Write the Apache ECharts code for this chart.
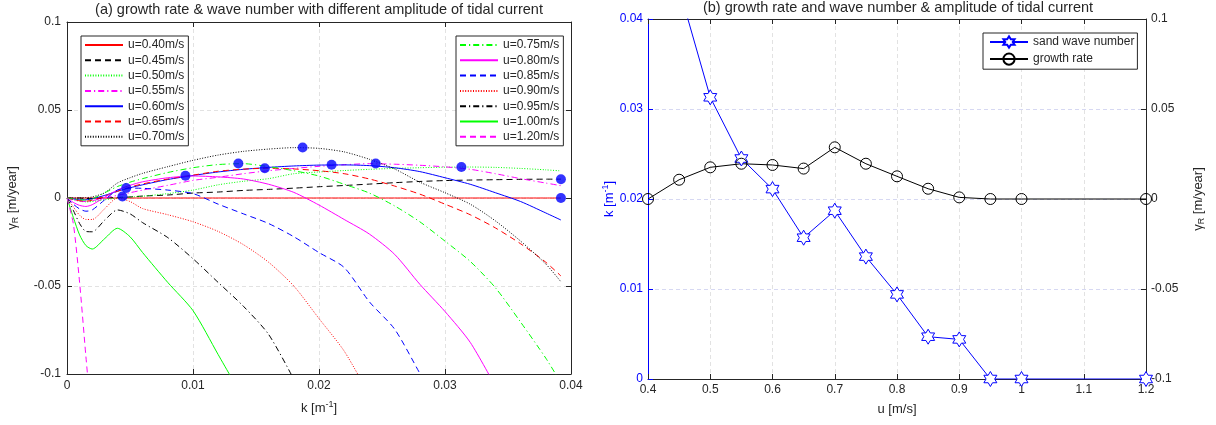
<!DOCTYPE html>
<html>
<head>
<meta charset="utf-8">
<script src="https://cdn.jsdelivr.net/npm/echarts@6/dist/echarts.min.js"></script>
<style>
  html, body { margin: 0; padding: 0; background: #fff; }
  #chart { width: 1216px; height: 425px; }
</style>
</head>
<body>
<div id="chart"></div>
<script>
// ---- panel (a): growth rate vs wave number, one curve per tidal amplitude ----
const kGrid = [0, 0.0005, 0.001, 0.0015, 0.002, 0.003, 0.004, 0.005, 0.006, 0.008,
  0.010, 0.012, 0.014, 0.016, 0.018, 0.020, 0.022, 0.024, 0.026, 0.028,
  0.030, 0.032, 0.034, 0.036, 0.038, 0.0392];

const g040 = [0, 0, 0, 0, 0, 0, 0, 0, 0, 0, 0, 0, 0, 0, 0, 0, 0, 0, 0, 0, 0, 0, 0, 0, 0, 0];
const g045 = [0, 0, 0, -0.0003, -0.0003, 0, 0.0003, 0.0006, 0.0011, 0.0017, 0.0028, 0.0034, 0.0043,
  0.0049, 0.0056, 0.0064, 0.0071, 0.0079, 0.0087, 0.0094, 0.0099, 0.0102, 0.0104, 0.0106, 0.0107, 0.0107];
const g050 = [0, -0.001, -0.0018, -0.0022, -0.002, -0.001, 0, 0.0005, 0.001, 0.0025, 0.0045, 0.0075, 0.0095,
  0.011, 0.0138, 0.0148, 0.0156, 0.0163, 0.0168, 0.0172, 0.0175, 0.0176, 0.0174, 0.0168, 0.016, 0.0154];
const g055 = [0, -0.001, -0.0018, -0.002, -0.0015, 0, 0.0015, 0.003, 0.0045, 0.0072, 0.01, 0.0118, 0.0138,
  0.0155, 0.0168, 0.018, 0.0189, 0.0195, 0.0192, 0.0186, 0.0177, 0.0163, 0.0138, 0.011, 0.0085, 0.007];
const g060 = [0, -0.0005, -0.001, -0.001, -0.0005, 0.0015, 0.0038, 0.0058, 0.0075, 0.0105, 0.0128, 0.0148, 0.0163,
  0.0174, 0.0182, 0.0187, 0.0188, 0.0184, 0.0172, 0.015, 0.0115, 0.0078, 0.003, -0.002, -0.0085, -0.0125];
const g065 = [0, -0.0008, -0.0015, -0.0018, -0.0012, 0.001, 0.0038, 0.0062, 0.008, 0.0108, 0.013, 0.0152, 0.0164,
  0.0169, 0.0165, 0.0155, 0.0138, 0.0108, 0.0068, 0.0022, -0.0035, -0.0095, -0.017, -0.026, -0.0365, -0.0443];
const g070 = [0, 0, 0, 0.0002, 0.0006, 0.003, 0.0085, 0.0115, 0.014, 0.0178, 0.0214, 0.0244, 0.0265,
  0.0278, 0.0286, 0.0282, 0.0262, 0.022, 0.0165, 0.009, 0.003, -0.0035, -0.013, -0.0245, -0.0375, -0.0476];
const g075 = [0, -0.0005, -0.001, -0.0012, -0.0005, 0.003, 0.0065, 0.009, 0.011, 0.0145, 0.0172, 0.019, 0.0195,
  0.0178, 0.0155, 0.0125, 0.0078, 0.0028, -0.0045, -0.0135, -0.0245, -0.036, -0.051, -0.0705, -0.091, -0.105];
const g080 = [0, -0.0025, -0.0042, -0.0048, -0.0038, 0.0005, 0.0045, 0.0072, 0.0092, 0.0115, 0.0125, 0.012, 0.0108,
  0.0078, 0.0032, -0.004, -0.0122, -0.0205, -0.032, -0.049, -0.0645, -0.082, -0.107];
const g085 = [0, -0.0035, -0.0062, -0.0075, -0.0068, -0.001, 0.0045, 0.0056, 0.0055, 0.0045, 0.0025, -0.0035, -0.009,
  -0.0145, -0.022, -0.031, -0.0395, -0.059, -0.0745, -0.0996, -0.125];
const g090 = [0, -0.005, -0.0098, -0.0122, -0.0122, -0.006, 0, -0.002, -0.006, -0.0095, -0.0135, -0.019, -0.0265,
  -0.0365, -0.05, -0.0685, -0.087, -0.112];
const g095 = [0, -0.007, -0.0145, -0.019, -0.0192, -0.0125, -0.0068, -0.009, -0.014, -0.0225, -0.0345, -0.048, -0.0615,
  -0.0775, -0.103];
const g100 = [0, -0.011, -0.021, -0.027, -0.029, -0.023, -0.0172, -0.022, -0.031, -0.048, -0.064, -0.089, -0.114];
const g120 = [0, -0.0145, -0.048, -0.09, -0.13];

// maximum-growth points marked on panel (a)
const peakK = [0.0392, 0.0392, 0.0313, 0.0245, 0.021, 0.0157, 0.0187, 0.0136, 0.0094, 0.0047, 0.0044];
const peakG = [0, 0.0107, 0.0176, 0.0196, 0.0189, 0.0169, 0.0287, 0.0196, 0.0126, 0.0057, 0.0009];

// ---- panel (b): wave number and growth rate vs amplitude ----
const uVals = [0.4, 0.45, 0.5, 0.55, 0.6, 0.65, 0.7, 0.75, 0.8, 0.85, 0.9, 0.95, 1.0, 1.2];
const waveK = [0.06, 0.0434, 0.0313, 0.0245, 0.0211, 0.0157, 0.0187, 0.0136, 0.0094, 0.0047, 0.0044, 0, 0, 0];
const growth = [0, 0.0107, 0.0176, 0.0196, 0.0189, 0.0169, 0.0287, 0.0196, 0.0126, 0.0057, 0.0009, 0, 0, 0];

const curveNames = ['u=0.40m/s', 'u=0.45m/s', 'u=0.50m/s', 'u=0.55m/s', 'u=0.60m/s', 'u=0.65m/s', 'u=0.70m/s',
  'u=0.75m/s', 'u=0.80m/s', 'u=0.85m/s', 'u=0.90m/s', 'u=0.95m/s', 'u=1.00m/s', 'u=1.20m/s'];
const curveData = [g040, g045, g050, g055, g060, g065, g070, g075, g080, g085, g090, g095, g100, g120];

const FONT = '"Liberation Sans", Arial, Helvetica, sans-serif';
const INK = '#262626';
const RED = '#ff0000', BLK = '#000000', GRN = '#00ff00', MAG = '#ff00ff', BLU = '#0000ff';
const SOLID = 'solid', DASH = [6, 4], DOT = [1, 1.6], DASHDOT = [6, 3, 1.2, 3];
const curveColor = [RED, BLK, GRN, MAG, BLU, RED, BLK, GRN, MAG, BLU, RED, BLK, GRN, MAG];
const curveDash = [SOLID, DASH, DOT, DASHDOT, SOLID, DASH, DOT, DASHDOT, SOLID, DASH, DOT, DASHDOT, SOLID, DASH];

// hexagram marker (matlab 'h')
const HEX = 'path://M100,0 L128.9,50 L186.6,50 L157.7,100 L186.6,150 L128.9,150 L100,200 L71.1,150 L13.4,150 L42.3,100 L13.4,50 L71.1,50 Z';

const gridLine = { show: true, lineStyle: { color: '#e2e2e2', width: 1, type: [4, 3] } };
const label12 = { fontFamily: FONT, fontSize: 12, color: INK };

function nameStyle(color) {
  return {
    fontFamily: FONT, fontSize: 13, color: color,
    rich: {
      g: { fontFamily: FONT, fontSize: 13, color: color, lineHeight: 16 },
      sub: { fontFamily: FONT, fontSize: 9, color: color, lineHeight: 9, verticalAlign: 'bottom' },
      sup: { fontFamily: FONT, fontSize: 9, color: color, lineHeight: 9, verticalAlign: 'top' }
    }
  };
}

const series = curveData.map((arr, i) => ({
  name: curveNames[i],
  type: 'line',
  xAxisIndex: 0, yAxisIndex: 0,
  data: arr.map((g, j) => [kGrid[j], g]),
  symbol: 'none',
  smooth: 0.25,
  lineStyle: { color: curveColor[i], width: 1, type: curveDash[i] },
  itemStyle: { color: curveColor[i] },
  z: 2
}));

series.push({
  name: 'peaks',
  type: 'scatter',
  xAxisIndex: 0, yAxisIndex: 0,
  data: peakK.map((k, i) => [k, peakG[i]]),
  symbolSize: 10,
  itemStyle: { color: BLU },
  z: 5
});

series.push({
  name: 'sand wave number',
  type: 'line',
  xAxisIndex: 2, yAxisIndex: 2,
  data: uVals.map((u, i) => [u, waveK[i]]),
  symbol: HEX,
  symbolSize: 15,
  symbolKeepAspect: true,
  lineStyle: { color: BLU, width: 1 },
  itemStyle: { color: '#ffffff', borderColor: BLU, borderWidth: 1 },
  z: 3
});

series.push({
  name: 'growth rate',
  type: 'line',
  xAxisIndex: 2, yAxisIndex: 3,
  data: uVals.map((u, i) => [u, growth[i]]),
  symbol: 'circle',
  symbolSize: 11,
  lineStyle: { color: BLK, width: 1 },
  itemStyle: { color: 'none', borderColor: BLK, borderWidth: 1 },
  z: 3
});

const legendBase = {
  orient: 'vertical',
  selectedMode: false,
  backgroundColor: '#ffffff',
  borderColor: INK,
  borderWidth: 1,
  borderRadius: 0,
  itemWidth: 38,
  itemHeight: 14,
  itemGap: 1.3,
  textStyle: { fontFamily: FONT, fontSize: 12, color: INK, lineHeight: 14 }
};
// line-only legend icons for panel (a)
const noMarker = { color: 'rgba(0,0,0,0)', borderColor: 'rgba(0,0,0,0)', borderWidth: 0 };

const option = {
  animation: false,
  backgroundColor: '#ffffff',
  graphic: [
    { type: 'text', x: 319, y: 2,
      style: { text: '(a) growth rate & wave number with different amplitude of tidal current',
        textAlign: 'center', textVerticalAlign: 'top', fontFamily: FONT, fontSize: 14.5, fill: INK } },
    { type: 'text', x: 898, y: 0,
      style: { text: '(b) growth rate and wave number & amplitude of tidal current',
        textAlign: 'center', textVerticalAlign: 'top', fontFamily: FONT, fontSize: 14.5, fill: INK } }
  ],
  legend: [
    Object.assign({}, legendBase, { left: 81, top: 36, padding: [2, 4, 2, 3], itemStyle: noMarker, data: curveNames.slice(0, 7) }),
    Object.assign({}, legendBase, { left: 456, top: 36, padding: [2, 4, 2, 3], itemStyle: noMarker, data: curveNames.slice(7) }),
    Object.assign({}, legendBase, { left: 983, top: 33, padding: [2, 3, 2, 6], itemGap: 2, data: ['sand wave number', 'growth rate'] })
  ],
  grid: [
    { left: 67, top: 22, width: 504, height: 352 },
    { left: 648, top: 19, width: 498, height: 360 }
  ],
  xAxis: [
    { type: 'value', gridIndex: 0, min: 0, max: 0.04, interval: 0.01,
      name: '{g|k [m}{sup|-1}{g|]}', nameLocation: 'middle', nameGap: 26, nameTextStyle: nameStyle(INK),
      axisLine: { onZero: false, lineStyle: { color: INK } },
      axisTick: { inside: true, length: 5, lineStyle: { color: INK } },
      axisLabel: Object.assign({ margin: 6 }, label12),
      splitLine: gridLine },
    { type: 'value', gridIndex: 0, position: 'top', min: 0, max: 0.04, interval: 0.01,
      axisLine: { onZero: false, lineStyle: { color: INK } },
      axisTick: { inside: true, length: 5, lineStyle: { color: INK } },
      axisLabel: { show: false }, splitLine: { show: false } },
    { type: 'value', gridIndex: 1, min: 0.4, max: 1.2, interval: 0.1,
      name: 'u [m/s]', nameLocation: 'middle', nameGap: 24,
      nameTextStyle: { fontFamily: FONT, fontSize: 13, color: INK },
      axisLine: { onZero: false, lineStyle: { color: INK } },
      axisTick: { inside: true, length: 5, lineStyle: { color: INK } },
      axisLabel: Object.assign({ margin: 5 }, label12),
      splitLine: gridLine },
    { type: 'value', gridIndex: 1, position: 'top', min: 0.4, max: 1.2, interval: 0.1,
      axisLine: { onZero: false, lineStyle: { color: INK } },
      axisTick: { inside: true, length: 5, lineStyle: { color: INK } },
      axisLabel: { show: false }, splitLine: { show: false } }
  ],
  yAxis: [
    { type: 'value', gridIndex: 0, min: -0.1, max: 0.1, interval: 0.05,
      name: '{g|γ}{sub|R}{g| [m/year]}', nameLocation: 'middle', nameGap: 47, nameRotate: 90,
      nameTextStyle: nameStyle(INK),
      axisLine: { onZero: false, lineStyle: { color: INK } },
      axisTick: { inside: true, length: 5, lineStyle: { color: INK } },
      axisLabel: Object.assign({ margin: 6 }, label12),
      splitLine: gridLine },
    { type: 'value', gridIndex: 0, position: 'right', min: -0.1, max: 0.1, interval: 0.05,
      axisLine: { onZero: false, lineStyle: { color: INK } },
      axisTick: { inside: true, length: 5, lineStyle: { color: INK } },
      axisLabel: { show: false }, splitLine: { show: false } },
    { type: 'value', gridIndex: 1, min: 0, max: 0.04, interval: 0.01,
      name: '{g|k [m}{sup|-1}{g|]}', nameLocation: 'middle', nameGap: 21, nameRotate: 90,
      nameTextStyle: nameStyle(BLU),
      axisLine: { onZero: false, lineStyle: { color: BLU } },
      axisTick: { inside: true, length: 5, lineStyle: { color: BLU } },
      axisLabel: { margin: 5, fontFamily: FONT, fontSize: 12, color: BLU },
      splitLine: { show: true, lineStyle: { color: '#d6d8f2', width: 1, type: [4, 3] } } },
    { type: 'value', gridIndex: 1, position: 'right', min: -0.1, max: 0.1, interval: 0.05,
      name: '{g|γ}{sub|R}{g| [m/year]}', nameLocation: 'middle', nameGap: 44, nameRotate: 90,
      nameTextStyle: nameStyle(INK),
      axisLine: { onZero: false, lineStyle: { color: INK } },
      axisTick: { inside: true, length: 5, lineStyle: { color: INK } },
      axisLabel: Object.assign({ margin: 5 }, label12),
      splitLine: { show: false } }
  ],
  series: series
};

const chart = echarts.init(document.getElementById('chart'));
chart.setOption(option);
</script>
</body>
</html>
